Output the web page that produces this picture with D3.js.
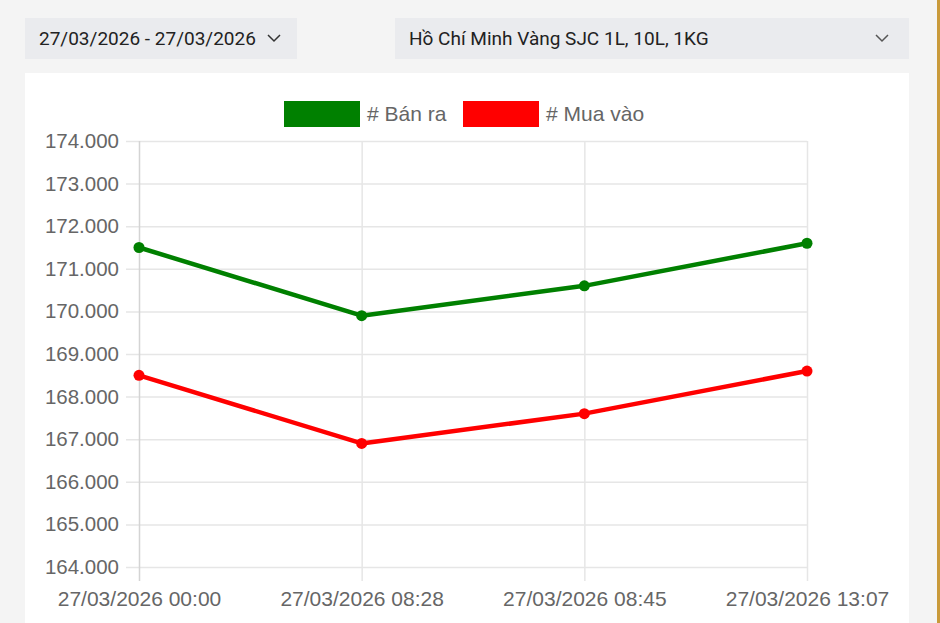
<!DOCTYPE html>
<html>
<head>
<meta charset="utf-8">
<script src="https://cdn.jsdelivr.net/npm/d3@7"></script>
<style>
  html, body { margin: 0; padding: 0; background: #f4f4f4; }
  body { width: 940px; height: 623px; overflow: hidden; position: relative; font-family: Roboto, "Noto Sans", sans-serif; }
  .select { position: absolute; top: 18px; height: 41px; background: #eaebee; color: #222; font-size: 19px; line-height: 41px; box-sizing: border-box; }
  .select svg { position: absolute; top: 15px; }
  .panel { position: absolute; left: 25px; top: 73px; width: 884px; height: 560px; background: #fff; }
  .goldbar { position: absolute; left: 937px; top: 0; width: 3px; height: 623px; background: #c99a3a; }
  #chart { position: absolute; left: 0; top: 0; }
</style>
</head>
<body>
<div class="select" style="left:25px;width:272px;padding-left:14px;">27/03/2026 - 27/03/2026
  <svg width="14" height="10" style="left:242px"><path d="M1,2 L7,8 L13,2" fill="none" stroke="#333" stroke-width="1.5"/></svg>
</div>
<div class="select" style="left:395px;width:514px;padding-left:14px;">Hồ Chí Minh Vàng SJC 1L, 10L, 1KG
  <svg width="14" height="10" style="left:480px"><path d="M1,2 L7,8 L13,2" fill="none" stroke="#555" stroke-width="1.5"/></svg>
</div>
<div class="panel"></div>
<div class="goldbar"></div>
<svg id="chart" width="940" height="623"></svg>
<script>
//////////
// DATA //
//////////

var times = ['27/03/2026 00:00', '27/03/2026 08:28', '27/03/2026 08:45', '27/03/2026 13:07'];
var banRa = [171500, 169900, 170600, 171600];
var muaVao = [168500, 166900, 167600, 168600];
var yTicks = [164000, 165000, 166000, 167000, 168000, 169000, 170000, 171000, 172000, 173000, 174000];
var seriesNames = ['# Bán ra', '# Mua vào'];
var seriesColors = ['#008000', '#ff0000'];

var svg = d3.select('#chart');
var font = '"Liberation Sans", Arial, sans-serif';

////////////
// SCALES //
////////////

var xScale = d3.scalePoint()
    .domain(times)
    .range([139, 807]);

var yScale = d3.scaleLinear()
    .domain([164000, 174000])
    .range([567, 141]);

var fmt = d3.formatLocale({ decimal: ',', thousands: '.', grouping: [3], currency: ['', ''] }).format(',');

//////////
// GRID //
//////////

var grid = svg.append('g');

grid.selectAll('.hgrid')
    .data(yTicks)
    .enter()
    .append('line')
    .attr('x1', 126)
    .attr('x2', 807)
    .attr('y1', function(d) { return yScale(d) + 0.5; })
    .attr('y2', function(d) { return yScale(d) + 0.5; })
    .attr('stroke', '#e6e6e6')
    .attr('stroke-width', 1.5);

grid.selectAll('.vgrid')
    .data(times)
    .enter()
    .append('line')
    .attr('x1', function(d) { return xScale(d) + 0.5; })
    .attr('x2', function(d) { return xScale(d) + 0.5; })
    .attr('y1', 141)
    .attr('y2', 581)
    .attr('stroke', function(d, i) { return i === 0 ? '#d4d4d4' : '#e6e6e6'; })
    .attr('stroke-width', 1.5);

//////////
// AXIS //
//////////

var yAxis = d3.axisLeft(yScale)
    .tickValues(yTicks)
    .tickSize(0)
    .tickPadding(20)
    .tickFormat(fmt);

svg.append('g')
    .attr('transform', 'translate(139,0)')
    .call(yAxis)
    .call(function(g) { g.select('.domain').remove(); })
    .selectAll('text')
    .attr('fill', '#666')
    .style('font-family', font)
    .style('font-size', '20.5px');

var xAxis = d3.axisBottom(xScale)
    .tickSize(0)
    .tickPadding(24);

svg.append('g')
    .attr('transform', 'translate(0,567)')
    .call(xAxis)
    .call(function(g) { g.select('.domain').remove(); })
    .selectAll('text')
    .attr('fill', '#666')
    .style('font-family', font)
    .style('font-size', '21px');

///////////
// LINES //
///////////

var line = d3.line()
    .x(function(d, i) { return xScale(times[i]); })
    .y(function(d) { return yScale(d); });

[banRa, muaVao].forEach(function(values, s) {
    svg.append('path')
        .datum(values)
        .attr('d', line)
        .attr('fill', 'none')
        .attr('stroke', seriesColors[s])
        .attr('stroke-width', 4.5)
        .attr('stroke-linejoin', 'round');

    svg.selectAll('.pt' + s)
        .data(values)
        .enter()
        .append('circle')
        .attr('cx', function(d, i) { return xScale(times[i]); })
        .attr('cy', function(d) { return yScale(d); })
        .attr('r', 5.5)
        .attr('fill', seriesColors[s]);
});

////////////
// LEGEND //
////////////

var legendX = [284, 463];

var legend = svg.selectAll('.legend')
    .data(seriesNames)
    .enter()
    .append('g')
    .attr('transform', function(d, i) { return 'translate(' + legendX[i] + ',101)'; });

legend.append('rect')
    .attr('width', 76)
    .attr('height', 26)
    .attr('fill', function(d, i) { return seriesColors[i]; });

legend.append('text')
    .attr('x', 83)
    .attr('y', 20)
    .attr('fill', '#666')
    .style('font-family', font)
    .style('font-size', '21px')
    .text(function(d) { return d; });
</script>
</body>
</html>
